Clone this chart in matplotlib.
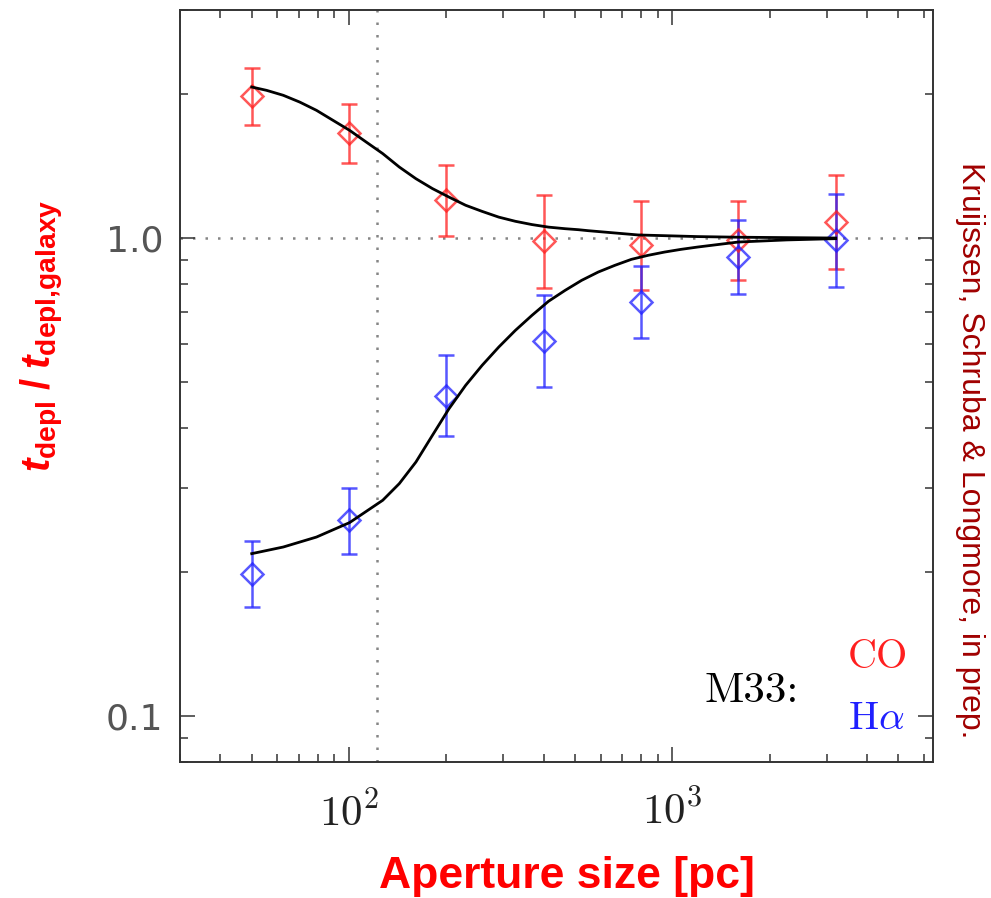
import matplotlib
matplotlib.use("Agg")
import matplotlib.pyplot as plt
from matplotlib.ticker import LogLocator, NullFormatter, FixedLocator

aperture = [50, 100, 200, 400, 800, 1600, 3200]
co = [1.98, 1.66, 1.20, 0.986, 0.969, 0.992, 1.08]
co_hi = [2.27, 1.91, 1.42, 1.23, 1.195, 1.197, 1.353]
co_lo = [1.727, 1.438, 1.01, 0.787, 0.78, 0.818, 0.863]
ha = [0.198, 0.257, 0.467, 0.608, 0.735, 0.913, 0.989]
ha_hi = [0.232, 0.300, 0.569, 0.759, 0.873, 1.089, 1.238]
ha_lo = [0.169, 0.218, 0.385, 0.488, 0.619, 0.765, 0.790]

# model curves
co_model_x = [50, 55.6, 62.6, 70.4, 79.3, 89.2, 100.4, 113.0, 127.1, 143.0, 161.0, 181.1,
              203.8, 229.4, 258.0, 290.5, 326.9, 367.9, 414.0, 465.9, 512.1, 549.5, 783,
              1197, 1600, 3200]
co_model = [2.070, 2.037, 1.989, 1.925, 1.850, 1.763, 1.680, 1.588, 1.502, 1.408, 1.331,
            1.269, 1.218, 1.171, 1.137, 1.106, 1.084, 1.067, 1.054, 1.046, 1.041, 1.036,
            1.015, 1.007, 1.004, 1.0]
ha_model_x = [50, 62.6, 79.3, 100.4, 127.1, 143.0, 161.0, 181.1, 203.8, 229.4, 258.0, 290.5,
              326.9, 367.9, 414.0, 465.9, 524.1, 589.8, 664.1, 746.9, 840.7, 946.2, 1064.4,
              1198, 1600, 2260, 3200]
ha_model = [0.2186, 0.2257, 0.2368, 0.2539, 0.2827, 0.3063, 0.3399, 0.3866, 0.4395, 0.4918,
            0.5416, 0.5915, 0.6409, 0.6890, 0.7374, 0.7772, 0.8156, 0.8489, 0.8768, 0.9024,
            0.9200, 0.9347, 0.9470, 0.9576, 0.981, 0.991, 0.997]

ref_x = 122
ref_y = 1.0
xtick_vals = [100, 1000]
xtick_labels = [r"$10^2$", r"$10^3$"]
ytick_vals = [0.1, 1.0]
ytick_labels = ["0.1", "1.0"]

plt.rcParams["mathtext.fontset"] = "cm"
plt.rcParams["mathtext.rm"] = "Liberation Sans:bold"
plt.rcParams["mathtext.it"] = "Liberation Sans:italic:bold"
plt.rcParams["mathtext.bf"] = "Liberation Sans:bold"

RED = "#ff1f1f"
BLUE = "#1f1fff"

fig = plt.figure(figsize=(9.91, 8.98), dpi=100)
ax = fig.add_axes([180 / 991, 1 - 762.3 / 898, 753 / 991, 752.3 / 898])
ax.set_xscale("log")
ax.set_yscale("log")
ax.set_xlim(30, 6400)
ax.set_ylim(0.08, 3.0)

dots = (0, (1, 4))
ax.axhline(ref_y, color="#858585", ls=dots, lw=1.8, zorder=1)
ax.axvline(ref_x, color="#858585", ls=dots, lw=1.8, zorder=1)

for y, lo, hi, c in [(co, co_lo, co_hi, RED), (ha, ha_lo, ha_hi, BLUE)]:
    err = [[v - l for v, l in zip(y, lo)], [h - v for v, h in zip(y, hi)]]
    ax.errorbar(aperture, y, yerr=err, fmt="D", ms=11, mfc="none", mec=c, mew=1.8,
                ecolor=c, elinewidth=1.8, capsize=5.5, capthick=1.8, alpha=0.75, zorder=2)

ax.plot(co_model_x, co_model, color="black", lw=2.0, zorder=3)
ax.plot(ha_model_x, ha_model, color="black", lw=2.0, zorder=3)

# axes / ticks
for s in ax.spines.values():
    s.set_color("#333333")
    s.set_linewidth(1.4)
ax.xaxis.set_major_locator(FixedLocator(xtick_vals))
ax.set_xticklabels(xtick_labels)
ax.yaxis.set_major_locator(FixedLocator(ytick_vals))
ax.set_yticklabels(ytick_labels)
ax.xaxis.set_minor_locator(LogLocator(subs=range(2, 10)))
ax.yaxis.set_minor_locator(LogLocator(subs=range(2, 10)))
ax.xaxis.set_minor_formatter(NullFormatter())
ax.yaxis.set_minor_formatter(NullFormatter())
ax.tick_params(which="both", direction="in", top=True, right=True, color="#333333", width=1.1)
ax.tick_params(which="major", length=11)
ax.tick_params(which="minor", length=6)
ax.tick_params(axis="x", which="major", labelsize=31, pad=21, labelcolor="#222222")
for lab in ax.get_yticklabels():
    lab.set_fontfamily("DejaVu Sans")
ax.tick_params(axis="y", which="major", labelsize=26, pad=12, labelcolor="#555555")

ax.text(0.697, 0.0806, "M33:", transform=ax.transAxes, fontsize=31, family="cmr10",
        color="black", va="baseline", ha="left")
ax.text(0.887, 0.1253, "CO", transform=ax.transAxes, fontsize=29, family="cmr10",
        color=RED, va="baseline", ha="left")
ax.text(0.887, 0.0439, r"$\mathrm{H}\alpha$", transform=ax.transAxes, fontsize=29,
        color=BLUE, va="baseline", ha="left")

fig.text(567 / 991, 1 - 888 / 898, "Aperture size [pc]", family="Liberation Sans",
         weight="bold", fontsize=32, color="red", ha="center", va="baseline")
fig.text(42 / 991, 1 - 336 / 898, r"$t_{\mathrm{depl}}\;\mathrm{/}\;t_{\mathrm{depl{,}galaxy}}$",
         math_fontfamily="custom", fontsize=29, color="red", rotation=90,
         ha="center", va="center")
fig.text(970 / 991, 1 - 450 / 898, "Kruijssen, Schruba & Longmore, in prep.",
         family="Liberation Sans", fontsize=23, color="#a00000", rotation=-90,
         ha="center", va="center")

fig.savefig("out.png", dpi=100)
